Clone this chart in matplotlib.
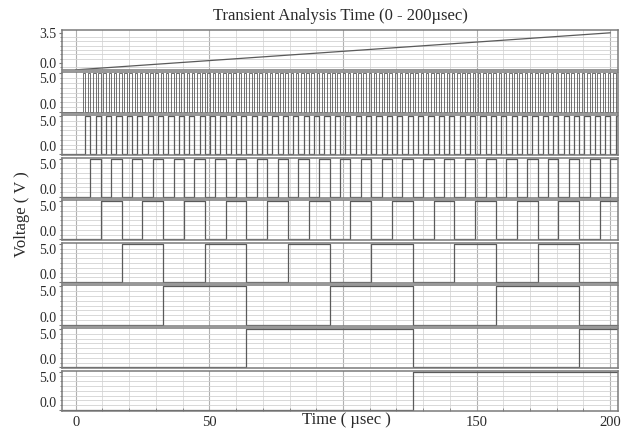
import matplotlib
matplotlib.use("Agg")
import matplotlib.pyplot as plt
from matplotlib.ticker import MultipleLocator

# values
time_ticks = [0, 50, 100, 150, 200]
time_tick_labels = ["0", "50", "", "150", "200"]
x_range = [-5.2, 203]

ramp_time = [0, 200]
ramp_volts = [-0.8, 3.5]

# counter clock: first count edge delay and step between counts (usec)
count_delay = 1.6
count_step = 0.973
counter_bits = [0, 1, 2, 3, 4, 5, 6, 7]   # panel 2 .. panel 9
high_level = 5.0

trace_col = "#5a5a5a"
spine_col = "#7a7a7a"
text_col = "#2a2a2a"
serif = ["Liberation Serif", "DejaVu Serif"]


def bit_wave(bit):
    # step trace of one counter output bit
    t = [x_range[0]]
    v = [0.0]
    n = 1
    while count_delay + n * count_step < x_range[1]:
        edge = count_delay + n * count_step
        val = high_level * ((n >> bit) & 1)
        if val != v[-1]:
            t.append(edge)
            v.append(val)
        n += 1
    t.append(x_range[1])
    v.append(v[-1])
    return t, v


fig = plt.figure(figsize=(6.25, 4.32), dpi=100)
gs = fig.add_gridspec(9, 1, left=0.099, right=0.989, top=0.931, bottom=0.049, hspace=0.06)
axes = [fig.add_subplot(gs[i, 0]) for i in range(9)]

for i, ax in enumerate(axes):
    ax.set_xlim(x_range)
    ax.set_axisbelow(True)
    ax.xaxis.set_major_locator(MultipleLocator(50))
    ax.xaxis.set_minor_locator(MultipleLocator(10))
    ax.grid(which="major", axis="x", color="#b0b0b0", lw=0.8)
    ax.grid(which="minor", axis="x", color="#d8d8d8", lw=0.6)
    ax.grid(which="minor", axis="y", color="#d2d2d2", lw=0.6)
    for s in ax.spines.values():
        s.set_color(spine_col)
        s.set_linewidth(1.1)
    ax.tick_params(axis="y", which="major", length=2, color=spine_col, labelsize=10,
                   labelcolor=text_col, pad=2)
    ax.tick_params(axis="y", which="minor", length=1.5, color=spine_col)
    ax.tick_params(axis="x", which="both", length=0, labelbottom=False)

    if i == 0:
        ax.plot(ramp_time, ramp_volts, color=trace_col, lw=0.9)
        ax.set_ylim(-0.82, 3.85)
        ax.set_yticks([0, 3.5])
        ax.set_yticklabels(["0.0", "3.5"], fontfamily=serif)
        ax.yaxis.set_minor_locator(MultipleLocator(0.5))
    else:
        t, v = bit_wave(counter_bits[i - 1])
        ax.step(t, v, where="post", color=trace_col, lw=0.9 if i > 1 else 0.6)
        ax.set_ylim(-0.12, 5.12)
        ax.set_yticks([0, 5])
        ax.set_yticklabels(["0.0", "5.0"], fontfamily=serif)
        labs = ax.get_yticklabels()
        labs[0].set_va("bottom")
        labs[1].set_va("top")
        ax.yaxis.set_minor_locator(MultipleLocator(0.625))

bottom = axes[-1]
bottom.set_xticks(time_ticks)
bottom.set_xticklabels(time_tick_labels, fontfamily=serif)
bottom.tick_params(axis="x", which="major", length=0, labelbottom=True, labelsize=10.5,
                   labelcolor=text_col, pad=4)
bottom.tick_params(axis="x", which="minor", length=2, color=spine_col, direction="in")

fig.text(0.545, 0.962, "Transient Analysis Time (0 - 200\u00b5sec)", ha="center", va="center",
         fontsize=12, fontfamily=serif, color=text_col)
fig.text(0.035, 0.505, "Voltage ( V )", ha="center", va="center", rotation=90,
         fontsize=12, fontfamily=serif, color=text_col)
fig.text(0.555, 0.028, "Time ( \u00b5sec )", ha="center", va="center",
         fontsize=12, fontfamily=serif, color=text_col)

fig.savefig("out.png", dpi=100)
